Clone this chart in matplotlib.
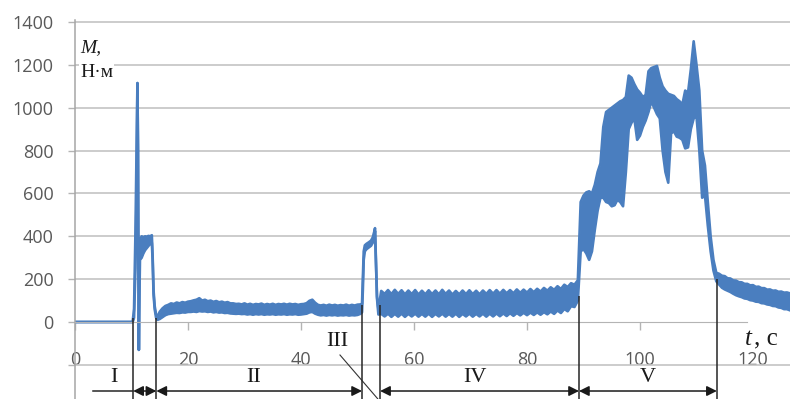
import numpy as np
import matplotlib
matplotlib.use("Agg")
import matplotlib.pyplot as plt

# torque M (N*m) versus time t (s); noisy parts are given as upper / lower edge of the band
# phase I and the start spike
t_start = [0, 10.2, 10.45, 10.7, 10.9, 11.05, 11.15, 11.22, 11.3, 11.42, 11.5]
hi_start = [0, 0, 60, 420, 800, 1115, 800, 300, -130, 250, 385]
lo_start = [0, 0, 20, 250, 600, 1115, 800, 300, -130, 150, 290]

t_peak = [11.8, 12.1, 12.4, 12.7, 13.0, 13.3, 13.6, 13.75, 13.9, 14.1, 14.35, 14.6]
hi_peak = [400, 395, 400, 398, 402, 400, 405, 300, 150, 75, 35, 25]
lo_peak = [300, 320, 335, 345, 355, 365, 370, 280, 130, 60, 20, 10]

# phase II, sampled every 0.5 s from 15 s
t0_II, dt_II = 15.0, 0.5
hi_II = [48, 64, 75, 80, 87, 84, 91, 87, 93, 90,
         95, 97, 101, 104, 111, 100, 104, 97, 100, 94,
         98, 92, 95, 90, 93, 87, 87, 84, 85, 82,
         87, 81, 85, 80, 84, 82, 86, 80, 84, 81,
         85, 80, 84, 82, 85, 81, 85, 82, 84, 80,
         83, 84, 88, 99, 104, 90, 80, 77, 80, 76,
         81, 77, 80, 76, 79, 77, 81, 76, 80, 77,
         81, 82]
lo_II = [14, 23, 32, 37, 39, 41, 43, 42, 45, 44,
         47, 47, 49, 47, 51, 49, 50, 47, 49, 45,
         47, 44, 45, 42, 43, 40, 39, 38, 39, 37,
         38, 35, 37, 34, 37, 35, 37, 34, 36, 35,
         37, 34, 36, 35, 37, 34, 36, 35, 37, 34,
         35, 37, 39, 45, 47, 39, 34, 31, 33, 30,
         33, 31, 33, 30, 32, 31, 33, 30, 32, 31,
         33, 38]

# phase III
t_III = [50.8, 50.95, 51.1, 51.3, 51.6, 52.0, 52.4, 52.7, 52.95, 53.1, 53.25, 53.45, 53.7]
hi_III = [85, 210, 330, 358, 365, 372, 380, 395, 420, 438, 300, 120, 60]
lo_III = [45, 150, 290, 330, 340, 348, 356, 370, 395, 425, 290, 110, 35]

# phase IV, every 0.6 s from 54.2 s
t0_IV, dt_IV = 54.2, 0.6
hi_IV = [145, 131, 149, 130, 150, 131, 148, 129, 147, 130,
         149, 128, 146, 129, 148, 130, 147, 129, 150, 131,
         147, 128, 145, 129, 147, 130, 148, 130, 146, 129,
         147, 131, 149, 132, 149, 132, 150, 134, 149, 134,
         152, 136, 151, 137, 154, 139, 155, 142, 159, 146,
         162, 150, 167, 154, 174, 163, 181, 174, 195]
lo_IV = [38, 26, 39, 24, 38, 25, 39, 24, 38, 26,
         39, 25, 38, 25, 39, 24, 38, 26, 39, 25,
         38, 25, 39, 24, 38, 26, 39, 25, 38, 26,
         39, 25, 39, 26, 40, 27, 40, 28, 41, 29,
         42, 31, 43, 32, 44, 33, 45, 34, 46, 36,
         49, 38, 54, 42, 61, 50, 74, 70, 100]

# phase V, every 0.5 s from 89.5 s
t0_V, dt_V = 89.5, 0.5
hi_V = [560, 590, 605, 610, 600, 640, 700, 740, 910, 980,
        990, 1000, 1010, 1020, 1030, 1036, 1050, 1150, 1140, 1110,
        1085, 1070, 1050, 1060, 1170, 1185, 1190, 1195, 1140, 1100,
        1080, 1065, 1060, 1055, 1040, 1030, 1015, 1080, 1070, 1180,
        1310, 1200, 1080, 800, 730, 560, 400, 290, 230]
lo_V = [330, 340, 320, 290, 330, 430, 520, 580, 580, 560,
        555, 540, 545, 570, 560, 540, 700, 900, 930, 950,
        850, 870, 910, 940, 980, 1030, 1000, 970, 950, 800,
        700, 650, 880, 890, 865, 860, 850, 810, 815, 900,
        950, 960, 800, 580, 590, 450, 330, 240, 190]

# run-out after phase V, every 0.5 s from 114 s
t0_end, dt_end = 114.0, 0.5
hi_end = [225, 216, 214, 204, 203, 194, 193, 186, 185, 178, 178, 171, 172,
          164, 165, 158, 158, 151, 152, 146, 147, 141, 142, 137, 138, 134]
lo_end = [175, 160, 152, 146, 140, 132, 125, 120, 116, 110, 108, 102, 100,
          95, 94, 88, 87, 82, 80, 75, 74, 68, 66, 60, 60, 55]

# phase boundaries (s) and the torque where the marker lines begin
bounds = [10.3, 14.4, 50.8, 54.0, 89.2, 113.6]
bound_tops = [20, 20, 80, 80, 120, 200]
phase_names = ["I", "II", "III", "IV", "V"]
phase_t = [6.9, 31.7, 46.4, 70.8, 101.4]
phase_m = [-257, -257, -89, -257, -257]

blue = "#4a7ebf"
grey = "#b4b4b4"


def band(t0, dt, n):
    return t0 + dt * np.arange(n)


t = np.concatenate([t_start, t_peak, band(t0_II, dt_II, len(hi_II)), t_III,
                    band(t0_IV, dt_IV, len(hi_IV)), band(t0_V, dt_V, len(hi_V)),
                    band(t0_end, dt_end, len(hi_end))])
hi = np.concatenate([hi_start, hi_peak, hi_II, hi_III, hi_IV, hi_V, hi_end])
lo = np.concatenate([lo_start, lo_peak, lo_II, lo_III, lo_IV, lo_V, lo_end])

plt.rcParams['font.family'] = ['Open Sans', 'DejaVu Sans']

fig = plt.figure(figsize=(7.9, 3.99), dpi=100)
ax = fig.add_axes([75 / 790, 0, 715 / 790, 379 / 399])
ax.set_xlim(0, 715 / 5.65)
ax.set_ylim(-77 / 0.2143, 1400 + 2 / 0.2143)

ax.fill_between(t, lo, hi, color=blue, lw=0, zorder=2)
ax.plot(t, hi, color=blue, lw=1.9, solid_joinstyle='round', zorder=2)
ax.plot(t, lo, color=blue, lw=1.9, solid_joinstyle='round', zorder=2)

# axes in the Excel look
yt = list(range(-200, 1401, 200))
ax.set_yticks(yt)
ax.set_yticklabels(["" if v < 0 else str(v) for v in yt])
ax.set_xticks(range(0, 121, 20))
for s in ["top", "right"]:
    ax.spines[s].set_visible(False)
ax.spines["bottom"].set_position(("data", 0))
ax.spines["bottom"].set_bounds(0, 119)
ax.spines["bottom"].set_color(grey)
ax.spines["left"].set_color("#a6a6a6")
ax.spines["left"].set_linewidth(1.1)
ax.tick_params(axis="y", length=5, width=1, color=grey, pad=10.5,
               labelsize=13, labelcolor="#595959")
ax.tick_params(axis="x", length=5.8, width=1, color=grey, pad=15,
               labelsize=13, labelcolor="#595959")
ax.xaxis.get_major_ticks()[-1].tick1line.set_visible(False)
ax.set_axisbelow(True)
ax.grid(axis="y", color="#c4c4c4", lw=1.2)
ax.yaxis.get_gridlines()[1].set_visible(False)

serif = ["Liberation Serif", "DejaVu Serif"]
ax.text(0.9, 1260, "M,", family=serif, style="italic", fontsize=14,
        color="#1a1a1a", va="baseline")
ax.text(0.9, 1143, "Н·м", family=serif, fontsize=14, color="#1a1a1a",
        va="baseline", bbox=dict(facecolor="white", edgecolor="none", pad=1))
ax.text(118.6, -107, "t", family=serif, style="italic", fontsize=18,
        color="#1a1a1a", va="baseline")
ax.text(120.1, -107, ", с", family=serif, fontsize=18, color="#1a1a1a",
        va="baseline", ha="left")

# phase markers
y_arrow = -322
ax.vlines(bounds, -77 / 0.2143, bound_tops, color="#262626", lw=1.1, zorder=3)
ax.plot([3.2, bounds[0]], [y_arrow, y_arrow], color="#262626", lw=1.1)
for a, b in [(0, 1), (1, 2), (3, 4), (4, 5)]:
    ax.annotate("", xy=(bounds[b], y_arrow), xytext=(bounds[a], y_arrow),
                arrowprops=dict(arrowstyle="<|-|>", color="#1a1a1a", lw=1.1,
                                shrinkA=0, shrinkB=0, mutation_scale=15))
ax.plot([46.9, 53.6], [-154, -359], color="#333333", lw=0.8)
for name, pt, pm in zip(phase_names, phase_t, phase_m):
    ax.text(pt, pm, name, family=serif, fontsize=16, color="#1a1a1a",
            ha="center", va="center")

fig.savefig("out.png", dpi=100)
